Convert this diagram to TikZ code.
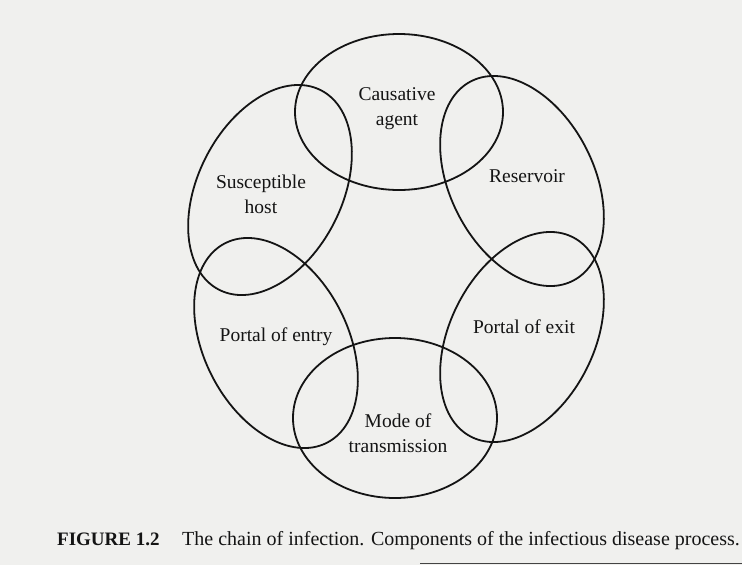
\documentclass[tikz,border=0pt]{standalone}
\usepackage{fontspec}
\setmainfont{Liberation Serif}
\usetikzlibrary{shapes.geometric}
\definecolor{paper}{RGB}{240,240,238}
\definecolor{ink}{RGB}{20,20,20}
\begin{document}
\begin{tikzpicture}[x=1pt,y=-1pt,
  ring/.style={draw=ink,line width=1.8pt,ellipse,inner sep=0pt},
  lbl/.style={text=ink,font=\fontsize{19.5}{22}\selectfont,anchor=base,inner sep=0pt},
  captxt/.style={text=ink,font=\fontsize{20}{23}\selectfont,anchor=base west,inner sep=0pt}]
\fill[paper] (0,0) rectangle (742,565);
\useasboundingbox (0,0) rectangle (742,565);
% ellipses
\node[ring,minimum width=208pt,minimum height=156pt] (ca) at (399,112) {};
\node[ring,minimum width=204pt,minimum height=160pt] (mt) at (395,418) {};
\node[ring,minimum width=224pt,minimum height=144pt,rotate=63] (sh) at (270,190) {};
\node[ring,minimum width=224pt,minimum height=144pt,rotate=-63] (rs) at (522,181) {};
\node[ring,minimum width=224pt,minimum height=144pt,rotate=-63] (pe) at (276,343) {};
\node[ring,minimum width=224pt,minimum height=144pt,rotate=63] (px) at (522,337) {};
% labels
\node[lbl] (lca1) at (397,100) {Causative};
\node[lbl] (lca2) at (397,125) {agent};
\node[lbl] (lsh1) at (261,188) {Susceptible};
\node[lbl] (lsh2) at (261,213) {host};
\node[lbl] (lrs) at (527,182) {Reservoir};
\node[lbl] (lpe) at (276,341) {Portal of entry};
\node[lbl] (lpx) at (524,333) {Portal of exit};
\node[lbl] (lmt1) at (398,427) {Mode of};
\node[lbl] (lmt2) at (398,452) {transmission};
% caption
\node[captxt,font=\fontsize{19}{23}\selectfont\bfseries] (fig) at (57,545) {FIGURE 1.2};
\node[captxt] (ctx) at (182,545) {The chain of infection. Components of the infectious disease process.};
% bottom rule
\coordinate (r1) at (420,563.5);
\coordinate (r2) at (742,563.5);
\draw[line width=1.5pt,ink!80] (r1) -- (r2);
\end{tikzpicture}
\end{document}
